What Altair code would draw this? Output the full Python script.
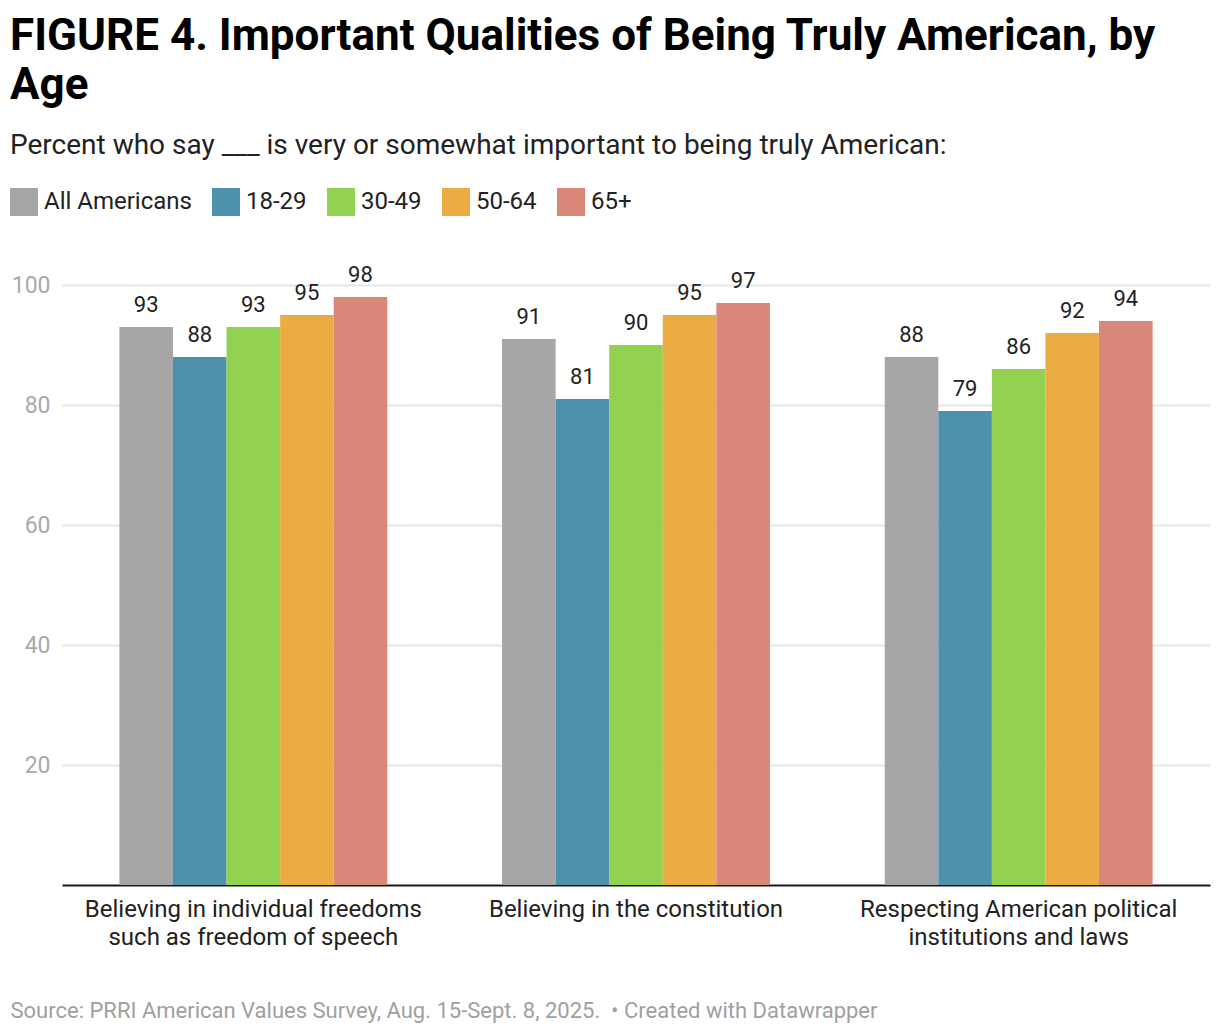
import altair as alt
import pandas as pd

categories = [
    "Believing in individual freedoms|such as freedom of speech",
    "Believing in the constitution",
    "Respecting American political|institutions and laws",
]
groups = ["All Americans", "18-29", "30-49", "50-64", "65+"]
colors = ["#a6a6a6", "#4f90ad", "#93d150", "#ebad43", "#d98778"]

all_americans = [93, 91, 88]
age_18_29 = [88, 81, 79]
age_30_49 = [93, 90, 86]
age_50_64 = [95, 95, 92]
age_65_plus = [98, 97, 94]

series = [all_americans, age_18_29, age_30_49, age_50_64, age_65_plus]
rows = []
for g, vals in zip(groups, series):
    for c, v in zip(categories, vals):
        rows.append({"category": c, "group": g, "value": v})
df = pd.DataFrame(rows)

title_lines = ["FIGURE 4. Important Qualities of Being Truly American, by", "Age"]
subtitle = "Percent who say ___ is very or somewhat important to being truly American:"
footer = "Source: PRRI American Values Survey, Aug. 15-Sept. 8, 2025.\u00a0 \u2022 Created with Datawrapper"

x_enc = alt.X(
    "category:N",
    sort=categories,
    scale=alt.Scale(paddingInner=0.3, paddingOuter=0.15),
    axis=alt.Axis(
        title=footer,
        titleFontSize=22,
        titleFontWeight="normal",
        titleColor="#a0a0a0",
        titleAlign="left",
        titleAnchor="start",
        titleX=-52,
        titleY=132,
        titleBaseline="alphabetic",
        labelAngle=0,
        labelFontSize=24,
        labelColor="#222222",
        labelPadding=12,
        labelLineHeight=28,
        labelLimit=0,
        labelExpr="split(datum.label, '|')",
        ticks=False,
        domainColor="#1a1a1a",
        domainWidth=2,
        grid=False,
    ),
)
xoff = alt.XOffset("group:N", sort=groups, scale=alt.Scale(paddingInner=0, paddingOuter=0))

bars = alt.Chart(df).mark_bar().encode(
    x=x_enc,
    xOffset=xoff,
    y=alt.Y(
        "value:Q",
        scale=alt.Scale(domain=[0, 100], nice=False),
        axis=alt.Axis(
            title=None,
            values=[20, 40, 60, 80, 100],
            labelFontSize=23,
            labelColor="#aaaaaa",
            labelPadding=12,
            ticks=False,
            domain=False,
            gridColor="#e6e6e6",
            gridWidth=2,
        ),
    ),
    color=alt.Color(
        "group:N",
        sort=groups,
        scale=alt.Scale(domain=groups, range=colors),
        legend=alt.Legend(
            title=None,
            orient="none",
            legendX=-52,
            legendY=-97,
            direction="horizontal",
            columns=5,
            symbolType="square",
            symbolSize=784,
            symbolStrokeWidth=0,
            symbolOpacity=1,
            labelFontSize=24,
            labelColor="#222222",
            labelOffset=6,
            labelLimit=0,
            columnPadding=20,
        ),
    ),
)

labels = alt.Chart(df).mark_text(
    baseline="bottom", dy=-10, fontSize=22, color="#222222"
).encode(
    x=alt.X("category:N", sort=categories),
    xOffset=alt.XOffset("group:N", sort=groups),
    y="value:Q",
    text="value:Q",
)

chart = (
    alt.layer(bars, labels)
    .properties(
        width=1148,
        height=600,
        padding={"left": 2, "top": 7, "right": 2, "bottom": 4},
        title=alt.TitleParams(
            text=title_lines,
            subtitle=subtitle,
            anchor="start",
            frame="bounds",
            fontSize=44,
            lineHeight=49,
            fontWeight="bold",
            color="#000000",
            subtitleFontSize=28,
            subtitleColor="#222222",
            subtitlePadding=24,
            offset=28,
        ),
    )
    .configure(font="Roboto")
    .configure_view(stroke=None)
)

chart.save("out.html", embed_options={"renderer": "svg", "actions": False})
